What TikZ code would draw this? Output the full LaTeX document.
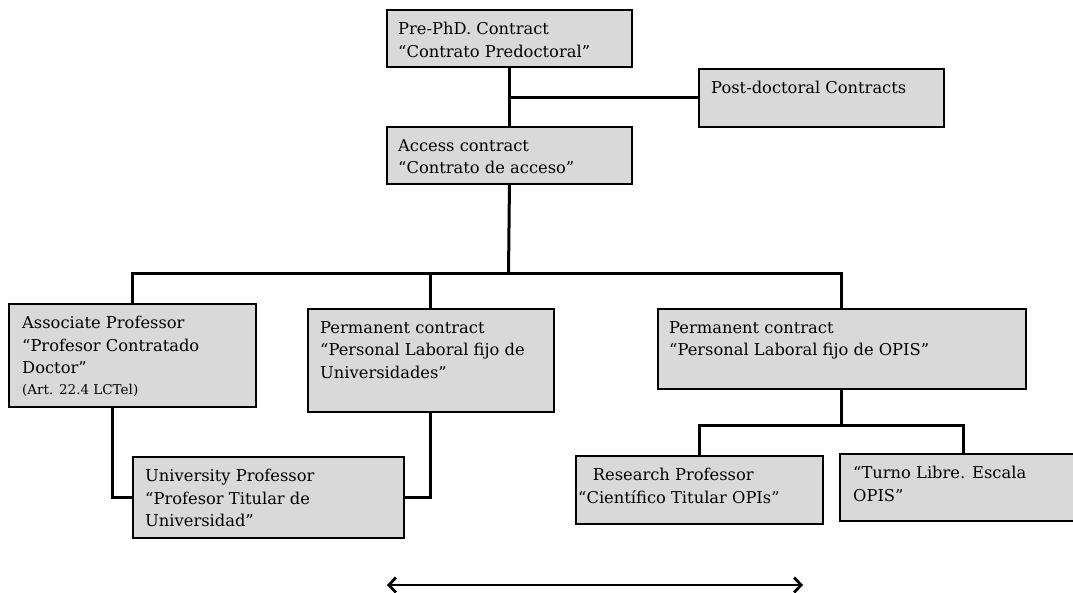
\documentclass[tikz,border=0pt]{standalone}
\usepackage{fontspec}
\setmainfont{DejaVu Serif}
\usetikzlibrary{arrows.meta,shadows,calc}
\definecolor{boxgray}{HTML}{D9D9D9}
\begin{document}
\begin{tikzpicture}[x=1pt,y=-1pt,
  box/.style={draw=black, line width=1.9pt, fill=boxgray, anchor=north west, inner sep=0pt,
    drop shadow={shadow xshift=1.5pt, shadow yshift=-1.5pt, opacity=0.3, fill=black}},
  lbl/.style={anchor=north west, align=left, inner sep=0pt, font=\fontsize{16.3}{22.5}\selectfont},
  conn/.style={line width=3pt},
]
\clip (0,0) rectangle (1073,593);
% boxes
\node[box, minimum width=245pt, minimum height=57pt] (pre) at (386,9) {};
\node[box, minimum width=245pt, minimum height=58pt] (post) at (698,68) {};
\node[box, minimum width=245pt, minimum height=57pt] (access) at (386,126) {};
\node[box, minimum width=247pt, minimum height=103pt] (assoc) at (8,303) {};
\node[box, minimum width=246pt, minimum height=103pt] (permU) at (307,308) {};
\node[box, minimum width=368pt, minimum height=80pt] (opis) at (657,308) {};
\node[box, minimum width=271pt, minimum height=81pt] (up) at (132,456) {};
\node[box, minimum width=247pt, minimum height=68pt] (research) at (575,455) {};
\node[box, minimum width=248pt, minimum height=67pt] (turno) at (839,453) {};
% labels
\node[lbl] (preT) at ($(pre.north west)+(12,13)$) {Pre-PhD. Contract\\“Contrato Predoctoral”};
\node[lbl] (postT) at ($(post.north west)+(13,13)$) {Post-doctoral Contracts};
\node[lbl] (accessT) at ($(access.north west)+(12,13)$) {Access contract\\“Contrato de acceso”};
\node[lbl] (assocT) at ($(assoc.north west)+(14,13)$) {Associate Professor\\“Profesor Contratado\\Doctor”\\[-2pt]{\fontsize{13.5}{16}\selectfont (Art. 22.4 LCTel)}};
\node[lbl] (permUT) at ($(permU.north west)+(13,13)$) {Permanent contract\\“Personal Laboral fijo de\\Universidades”};
\node[lbl] (opisT) at ($(opis.north west)+(12,13)$) {Permanent contract\\“Personal Laboral fijo de OPIS”};
\node[lbl] (upT) at ($(up.north west)+(13,13)$) {University Professor\\“Profesor Titular de\\Universidad”};
\node[lbl] (researchT) at ($(research.north west)+(3,13)$) {\hspace{0.9em}Research Professor\\“Científico Titular OPIs”};
\node[lbl] (turnoT) at ($(turno.north west)+(14,13)$) {“Turno Libre. Escala\\OPIS”};
% connectors
\coordinate (bus) at (508.5,274);
\coordinate (obus) at (841,425);
\coordinate (aL) at (112,406);
\coordinate (arL) at (387,585);
\coordinate (arR) at (803,585);
\draw[conn] (pre.south) -- (access.north);
\draw[conn] (pre.south |- post.west) -- (post.west);
\draw[conn] (access.south) -- (bus);
\draw[conn] (assoc.north) -- (assoc.north |- bus) -- (opis.north |- bus) -- (opis.north);
\draw[conn] (permU.north) -- (permU.north |- bus);
\draw[conn] (opis.south) -- (opis.south |- obus);
\draw[conn] (research.north) |- (obus) -| (turno.north);
\draw[conn] (aL) |- (up.west);
\draw[conn] (permU.south) |- (up.east);
\draw[line width=2.8pt, {Straight Barb[length=7pt,width=15pt,line width=2.8pt]}-{Straight Barb[length=7pt,width=15pt,line width=2.8pt]}] (arL) -- (arR);
\end{tikzpicture}
\end{document}
